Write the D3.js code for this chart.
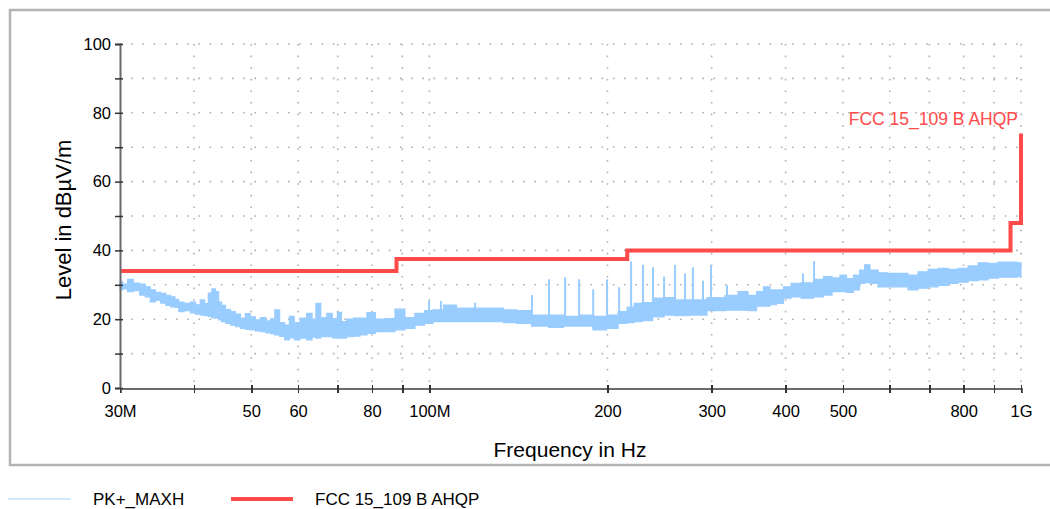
<!DOCTYPE html>
<html>
<head>
<meta charset="utf-8">
<script src="https://cdn.jsdelivr.net/npm/d3@7"></script>
<style>
  body { margin: 0; background: #fff; }
  svg { display: block; font-family: "Liberation Sans", Arial, sans-serif; }
</style>
</head>
<body>
<svg id="chart"></svg>
<script>
// PK+_MAXH trace, read as a band (low / high level per frequency, MHz)
var bandFreq = [30.0, 30.6, 31.2, 32.0, 32.8, 33.4, 34.1, 34.8, 35.5, 36.2, 36.9, 37.4, 38.0, 39.0, 39.9, 40.6,
  41.4, 42.0, 42.6, 43.2, 43.8, 44.3, 44.8, 45.7, 46.6, 47.5, 48.4, 49.3, 50.3, 51.3, 52.3, 53.5, 54.3, 55.3,
  56.4, 57.5, 58.5, 59.7, 61.2, 62.9, 63.8, 64.8, 66.3, 67.9, 69.2, 70.6, 71.5, 73.4, 75.5, 77.2, 79.7, 82.5,
  85.8, 89.2, 92.7, 96.4, 99.9, 103, 108.4, 114, 123.2, 130.1, 136.9, 144, 153.8, 164.4, 172.9, 184.8, 194.4,
  204.4, 212.6, 219.3, 224.5, 233.3, 243.5, 255.2, 265.3, 283.3, 306.4, 326, 338.9, 352.5, 362.2, 372.1, 380.9,
  391.4, 402.2, 415, 434.9, 457.4, 470, 488.7, 500.2, 514.1, 528.3, 538.7, 549.3, 562.2, 584.6, 607.8, 631.9,
  657, 683.1, 710.3, 738.5, 767.8, 798.3, 830, 863, 897.3, 933, 970, 1000]
var bandLow = [28.5, 28.8, 28.0, 28.3, 27.0, 26.5, 25.0, 25.5, 24.7, 24.0, 23.6, 23.4, 22.2, 22.5, 21.8, 21.5,
  21.2, 21.0, 20.8, 20.4, 20.3, 19.8, 19.3, 18.8, 18.3, 17.8, 17.3, 17.0, 16.9, 16.6, 16.4, 16.0, 15.8, 15.4,
  15.0, 14.0, 14.6, 14.0, 14.5, 14.0, 14.8, 14.5, 14.9, 14.9, 14.6, 14.5, 14.5, 14.9, 15.1, 15.4, 15.9, 16.4,
  16.4, 16.9, 17.3, 18.3, 18.8, 19.3, 19.3, 19.3, 19.3, 19.3, 19.0, 18.8, 18.0, 17.6, 18.0, 18.0, 16.9,
  17.3, 18.8, 19.0, 19.3, 19.6, 20.7, 21.2, 21.0, 21.2, 22.5, 22.6, 22.6, 22.5, 23.8, 23.8, 24.2,
  24.6, 26.1, 26.5, 26.1, 26.5, 27.0, 28.0, 28.0, 27.8, 28.5, 30.4, 30.6, 30.4, 29.4, 29.4, 29.4,
  28.5, 29.0, 29.4, 29.8, 30.4, 30.8, 31.2, 31.4, 31.9, 32.2, 32.2, 32.4]
var bandHigh = [30.9, 30.2, 31.6, 30.5, 30.2, 29.4, 28.5, 27.8, 27.5, 26.9, 26.5, 25.8, 25.0, 24.6, 25.0, 24.2,
  25.6, 24.5, 27.6, 28.8, 28.0, 25.0, 24.0, 22.8, 22.2, 21.5, 20.3, 21.6, 20.7, 19.8, 20.5, 19.5, 20.1, 22.7,
  19.0, 18.3, 20.8, 19.0, 20.3, 21.7, 20.0, 24.6, 20.5, 21.7, 20.2, 22.0, 19.3, 20.0, 20.3, 20.3, 21.9, 20.0,
  20.2, 22.9, 20.5, 21.7, 22.5, 22.7, 24.1, 23.2, 23.2, 23.2, 22.7, 22.5, 21.2, 21.2, 20.8, 21.2, 20.8,
  21.2, 22.2, 23.5, 24.6, 24.8, 26.1, 26.3, 25.6, 25.6, 26.3, 26.9, 28.0, 26.9, 28.0, 29.4, 28.5,
  28.5, 29.4, 30.4, 30.6, 31.6, 32.4, 32.0, 32.8, 31.8, 32.8, 34.3, 35.8, 34.3, 33.5, 33.3, 33.3,
  32.8, 33.8, 34.5, 34.8, 34.5, 34.8, 35.5, 36.4, 36.2, 36.6, 36.6, 36.4]

// narrow peaks sticking out of the trace
var spikeFreq = [99.9, 104.6, 119.5, 149.1, 159.3, 169.6, 179.1, 189.2, 199.7, 209.3, 219.3, 229.7, 238.8,
  249.3, 260.2, 270.5, 278.9, 290.1, 299.3, 318.5, 428.1, 446.9]
var spikeLevel = [25.3, 25.3, 24.8, 27.0, 31.6, 32.2, 31.6, 28.7, 31.6, 29.3, 36.8, 35.8, 35.1,
  32.4, 35.8, 33.3, 35.1, 31.2, 35.8, 29.9, 33.3, 36.9]

// FCC 15_109 B AHQP limit, stepped
var limitFreq = [30, 88, 88, 216, 216, 960, 960, 1000, 1000]
var limitLevel = [34, 34, 37.5, 37.5, 40, 40, 48, 48, 74]

var xTicks = [30, 40, 50, 60, 70, 80, 90, 100, 200, 300, 400, 500, 600, 700, 800, 900, 1000]
var xTickLabels = {30: "30M", 50: "50", 60: "60", 80: "80", 100: "100M", 200: "200", 300: "300",
  400: "400", 500: "500", 800: "800", 1000: "1G"}
var yTicks = [0, 10, 20, 30, 40, 50, 60, 70, 80, 90, 100]
var yTickLabels = [0, 20, 40, 60, 80, 100]

var screen = {width: 1050, height: 509}
var margins = {top: 44, right: 29, bottom: 121, left: 120}
var traceColor = "#99ccff"
var limitColor = "#ff4a4a"

var svg = d3.select("#chart")
  .attr("width", screen.width)
  .attr("height", screen.height)

var width = screen.width - margins.left - margins.right
var height = screen.height - margins.top - margins.bottom

var xScale = d3.scaleLog().domain([30, 1000]).range([0, width])
var yScale = d3.scaleLinear().domain([0, 100]).range([height, 0])

// outer frame
svg.append("rect")
  .attr("x", 10).attr("y", 10)
  .attr("width", 1060).attr("height", 455)
  .attr("fill", "none")
  .attr("stroke", "#b4b4b4")
  .attr("stroke-width", 2.5)

var graph = svg.append("g")
  .attr("transform", "translate(" + margins.left + "," + margins.top + ")")

// dotted grid
graph.append("g").selectAll("line")
  .data(yTicks.filter(function(d) { return d > 0 }))
  .enter().append("line")
  .attr("x1", 0).attr("x2", width)
  .attr("y1", function(d) { return yScale(d) })
  .attr("y2", function(d) { return yScale(d) })
  .attr("stroke", "#b0b0b0")
  .attr("stroke-width", 1.6)
  .attr("stroke-dasharray", "1.6,9.6")

graph.append("g").selectAll("line")
  .data(xTicks.filter(function(d) { return d > 30 }))
  .enter().append("line")
  .attr("x1", function(d) { return xScale(d) })
  .attr("x2", function(d) { return xScale(d) })
  .attr("y1", 0).attr("y2", height)
  .attr("stroke", "#b0b0b0")
  .attr("stroke-width", 1.6)
  .attr("stroke-dasharray", "1.6,10")

// trace band
var band = d3.range(bandFreq.length).map(function(i) {
  return {f: bandFreq[i], lo: bandLow[i], hi: bandHigh[i]}
})
var areaGen = d3.area()
  .x(function(d) { return xScale(d.f) })
  .y0(function(d) { return yScale(d.lo) })
  .y1(function(d) { return yScale(d.hi) })
  .curve(d3.curveStep)

graph.append("path")
  .datum(band)
  .attr("d", areaGen)
  .attr("fill", traceColor)
  .attr("stroke", traceColor)
  .attr("stroke-width", 1.2)

// spikes go from the nearest band floor up to the peak
var bis = d3.bisector(function(d) { return d }).left
graph.append("g").selectAll("line")
  .data(spikeFreq)
  .enter().append("line")
  .attr("x1", function(d) { return xScale(d) })
  .attr("x2", function(d) { return xScale(d) })
  .attr("y1", function(d, i) { return yScale(spikeLevel[i]) })
  .attr("y2", function(d) {
    var k = Math.min(bis(bandFreq, d), bandFreq.length - 1)
    return yScale(bandLow[k])
  })
  .attr("stroke", traceColor)
  .attr("stroke-width", 2)

// limit line
var limitGen = d3.line()
  .x(function(d, i) { return xScale(limitFreq[i]) })
  .y(function(d) { return yScale(d) })

graph.append("path")
  .datum(limitLevel)
  .attr("d", limitGen)
  .attr("fill", "none")
  .attr("stroke", limitColor)
  .attr("stroke-width", 4)

graph.append("text")
  .attr("x", xScale(1000) - 3)
  .attr("y", yScale(74) - 8)
  .attr("text-anchor", "end")
  .attr("fill", limitColor)
  .attr("font-size", 17.5)
  .text("FCC 15_109 B AHQP")

// axes
var xAxis = d3.axisBottom(xScale)
  .tickValues(xTicks)
  .tickSize(5)
  .tickFormat(function(d) { return xTickLabels[d] || "" })

var yAxis = d3.axisLeft(yScale)
  .tickValues(yTicks)
  .tickSize(5)
  .tickFormat(function(d) { return yTickLabels.indexOf(d) >= 0 ? d : "" })

var gx = graph.append("g")
  .attr("transform", "translate(0," + height + ")")
  .call(xAxis)
gx.select(".domain").attr("stroke", "#6a6a6a").attr("stroke-width", 2)
gx.selectAll(".tick line").attr("y1", -3).attr("stroke", "#333").attr("stroke-width", 1.5)
gx.selectAll(".tick text").attr("font-size", 16.5).attr("fill", "#000").attr("dy", "1.3em")

var gy = graph.append("g").call(yAxis)
gy.select(".domain").attr("stroke", "#6a6a6a").attr("stroke-width", 2)
gy.selectAll(".tick line").attr("x1", 3).attr("x2", -5).attr("stroke", "#333").attr("stroke-width", 1.5)
gy.selectAll(".tick text").attr("font-size", 16.5).attr("fill", "#000").attr("x", -9)
gx.selectAll("path.domain, .tick line").attr("shape-rendering", "crispEdges")

// axis titles
svg.append("text")
  .attr("x", 570)
  .attr("y", 457)
  .attr("text-anchor", "middle")
  .attr("font-size", 21)
  .text("Frequency in Hz")

svg.append("text")
  .attr("transform", "translate(71,220) rotate(-90)")
  .attr("text-anchor", "middle")
  .attr("font-size", 22)
  .text("Level in dBµV/m")

// legend
var legend = svg.append("g")
legend.append("line")
  .attr("x1", 8).attr("x2", 71).attr("y1", 499).attr("y2", 499)
  .attr("stroke", "#c4e0ff").attr("stroke-width", 1.5)
legend.append("text")
  .attr("x", 93).attr("y", 504.5).attr("font-size", 17).text("PK+_MAXH")
legend.append("line")
  .attr("x1", 231).attr("x2", 293).attr("y1", 499).attr("y2", 499)
  .attr("stroke", limitColor).attr("stroke-width", 4)
legend.append("text")
  .attr("x", 315).attr("y", 504.5).attr("font-size", 17).text("FCC 15_109 B AHQP")
</script>
</body>
</html>
